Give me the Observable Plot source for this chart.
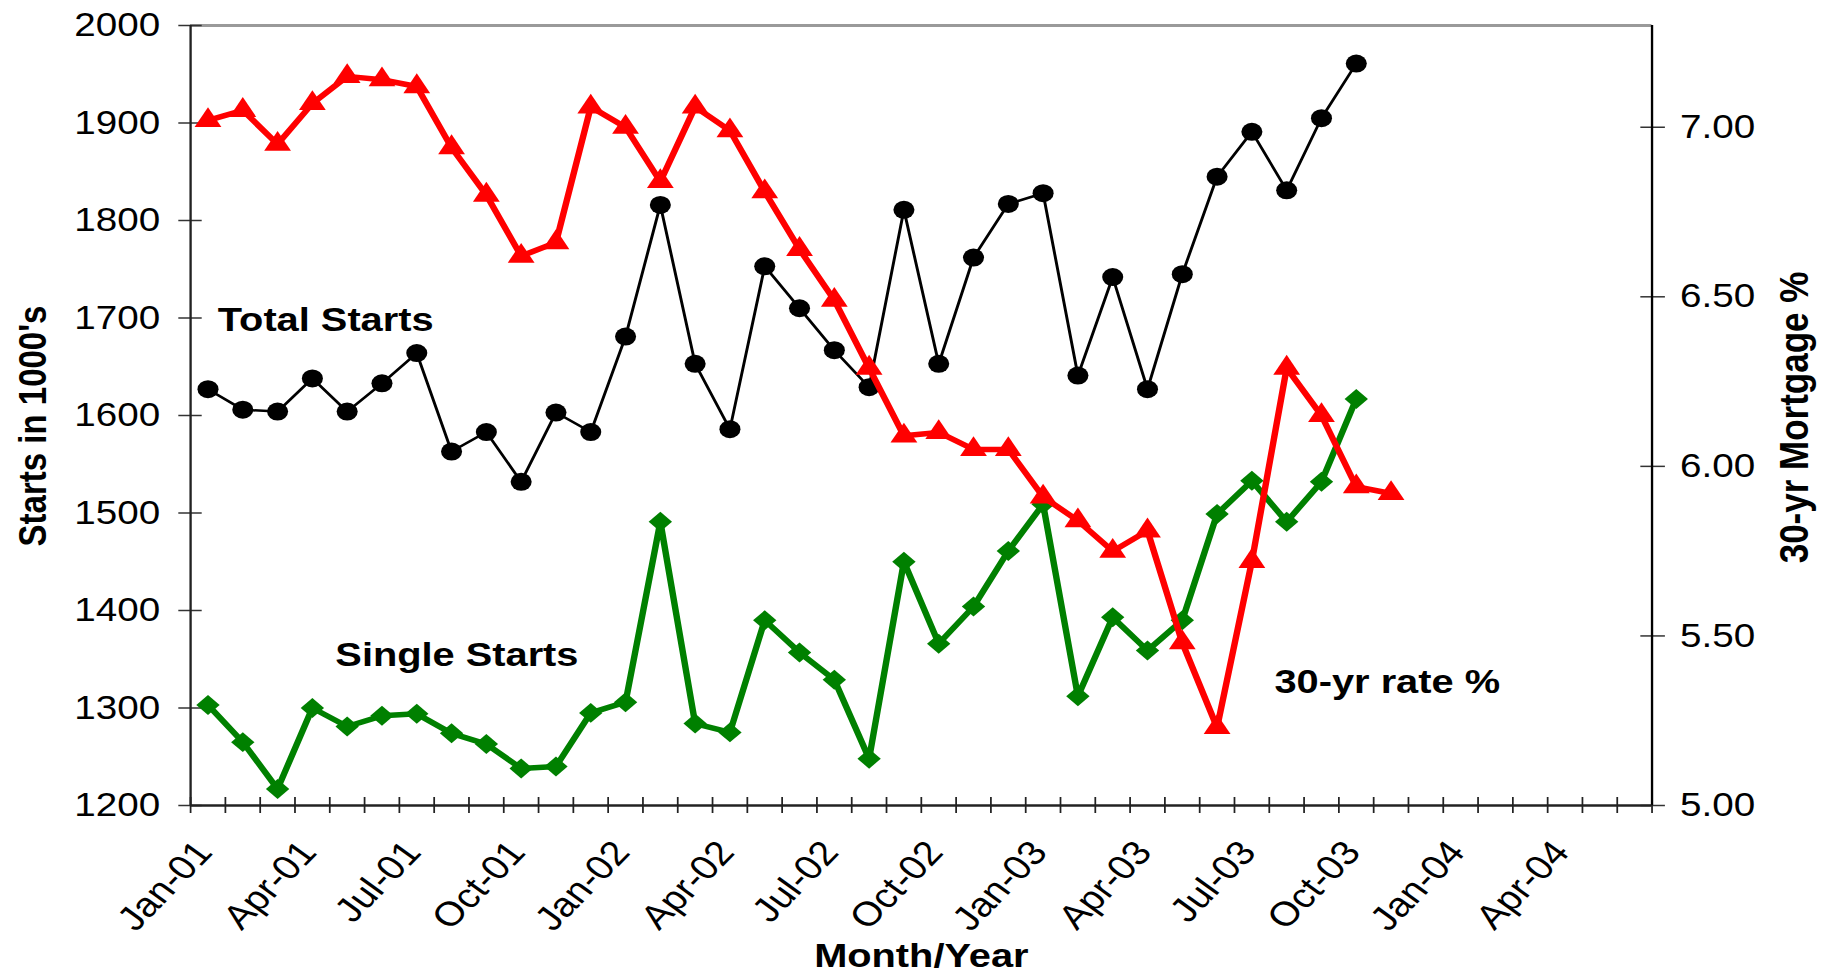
<!DOCTYPE html>
<html>
<head>
<meta charset="utf-8">
<script src="https://cdn.jsdelivr.net/npm/d3@7"></script>
<script src="https://cdn.jsdelivr.net/npm/@observablehq/plot@0.6"></script>
<style>
  html, body { margin: 0; padding: 0; background: #fff; overflow: hidden; }
  #chart { width: 1828px; height: 977px; }
</style>
</head>
<body>
<div id="chart"></div>
<script>
// ---- Data ----
const monthLabels = [
  "Jan-01","Feb-01","Mar-01","Apr-01","May-01","Jun-01","Jul-01","Aug-01","Sep-01","Oct-01","Nov-01","Dec-01",
  "Jan-02","Feb-02","Mar-02","Apr-02","May-02","Jun-02","Jul-02","Aug-02","Sep-02","Oct-02","Nov-02","Dec-02",
  "Jan-03","Feb-03","Mar-03","Apr-03","May-03","Jun-03","Jul-03","Aug-03","Sep-03","Oct-03","Nov-03"
];
const totalStarts = [
  1627,1606,1604,1638,1604,1633,1664,1563,1583,1532,1603,1583,
  1681,1816,1653,1586,1753,1710,1667,1629,1811,1653,1762,1817,
  1828,1641,1742,1627,1745,1845,1891,1831,1905,1961
];
const singleStarts = [
  1303,1265,1217,1300,1281,1292,1294,1274,1263,1238,1240,1295,
  1306,1491,1284,1275,1390,1357,1329,1248,1450,1366,1404,1461,
  1509,1312,1393,1359,1390,1499,1533,1491,1532,1617
];
const mortgageRate = [
  7.02,7.05,6.95,7.07,7.15,7.14,7.12,6.94,6.80,6.62,6.66,7.06,
  7.00,6.84,7.06,6.99,6.81,6.64,6.49,6.29,6.09,6.10,6.05,6.05,
  5.91,5.84,5.75,5.81,5.48,5.23,5.72,6.29,6.15,5.94,5.92
];
const xTickLabels = ["Jan-01","Apr-01","Jul-01","Oct-01","Jan-02","Apr-02","Jul-02","Oct-02",
                     "Jan-03","Apr-03","Jul-03","Oct-03","Jan-04","Apr-04"];
const leftTicks = [1200,1300,1400,1500,1600,1700,1800,1900,2000];
const rightTicks = [5.0,5.5,6.0,6.5,7.0];
const leftDomain = [1200, 2000];
const rightDomain = [5.0, 7.3];
const monthsOnAxis = 42; // Jan-01 .. Jul-04
const annotations = [
  {month: 0.78, value: 1698, label: "Total Starts"},
  {month: 4.16, value: 1354, label: "Single Starts"},
  {month: 31.15, value: 1327, label: "30-yr rate %"}
];

// ---- Layout ----
const S = 1.17;                 // horizontal stretch of the reference
const W = Math.round(1828 / S);
const H = 977;
const font = "'Liberation Sans', Arial, Helvetica, sans-serif";
const blank = () => "";

// secondary axis mapped onto the primary scale
const toLeft = r => leftDomain[0] + (r - rightDomain[0]) * (leftDomain[1] - leftDomain[0]) / (rightDomain[1] - rightDomain[0]);
const fromLeft = v => rightDomain[0] + (v - leftDomain[0]) * (rightDomain[1] - rightDomain[0]) / (leftDomain[1] - leftDomain[0]);

const totalData = totalStarts.map((v, i) => ({m: i + 0.5, v, label: monthLabels[i]}));
const singleData = singleStarts.map((v, i) => ({m: i + 0.5, v, label: monthLabels[i]}));
const rateData = mortgageRate.map((r, i) => ({m: i + 0.5, v: toLeft(r), r, label: monthLabels[i]}));
const xLabelData = xTickLabels.map((t, i) => ({m: i * 3, t}));

const chart = Plot.plot({
  width: W,
  height: H,
  marginLeft: 162.4,
  marginRight: W - 1411.5,
  marginTop: 25,
  marginBottom: 172,
  x: {domain: [0, monthsOnAxis], axis: null},
  y: {domain: leftDomain, axis: null},
  style: {fontFamily: font, color: "black", background: "white", overflow: "visible"},
  marks: [
    // top frame line
    Plot.ruleY([leftDomain[1]], {stroke: "#9a9a9a", strokeWidth: 3}),
    // left axis (ticks crossing the axis line)
    Plot.axisY({anchor: "left", ticks: leftTicks, tickSize: 20, dx: 10, tickFormat: blank, stroke: "#333", strokeWidth: 1.5}),
    Plot.axisY({anchor: "left", ticks: leftTicks, tickSize: 0, tickPadding: 26, fontSize: 33, tickFormat: d => String(d)}),
    // right axis
    Plot.axisY({anchor: "right", ticks: rightTicks.map(toLeft), tickSize: 21, dx: -10.5, tickFormat: blank, stroke: "#333", strokeWidth: 1.5}),
    Plot.axisY({anchor: "right", ticks: rightTicks.map(toLeft), tickSize: 0, tickPadding: 24, fontSize: 33,
                tickFormat: v => fromLeft(v).toFixed(2)}),
    // bottom axis: monthly ticks crossing the line, quarterly rotated labels
    Plot.axisX({anchor: "bottom", ticks: d3.range(0, monthsOnAxis + 1), tickSize: 16, dy: -8, tickFormat: blank, stroke: "#222", strokeWidth: 1.5}),
    Plot.text(xLabelData, {x: "m", frameAnchor: "bottom", text: "t", rotate: -50, textAnchor: "end", lineAnchor: "middle",
                           dx: 11.6, dy: 40.7, fontSize: 34}),
    Plot.ruleX([0], {stroke: "#222", strokeWidth: 2}),
    Plot.ruleX([monthsOnAxis], {stroke: "#000", strokeWidth: 2}),
    Plot.ruleY([leftDomain[0]], {stroke: "#222", strokeWidth: 2.5}),
    // axis titles
    Plot.text(["Starts in 1000's"], {frameAnchor: "left", text: d => d, rotate: -90, textAnchor: "middle", lineAnchor: "middle",
                                     dx: -134.5, dy: 10.5, fontSize: 33, fontWeight: "bold"}),
    Plot.text(["30-yr Mortgage %"], {frameAnchor: "right", text: d => d, rotate: -90, textAnchor: "middle", lineAnchor: "middle",
                                     dx: 122.5, dy: 2, fontSize: 35, fontWeight: "bold"}),
    Plot.text(["Month/Year"], {frameAnchor: "bottom", text: d => d, lineAnchor: "middle", dy: 151, fontSize: 34, fontWeight: "bold"}),
    // series: total starts
    Plot.line(totalData, {x: "m", y: "v", stroke: "black", strokeWidth: 2.5}),
    Plot.dot(totalData, {x: "m", y: "v", r: 9, fill: "black", symbol: "circle"}),
    // series: single starts
    Plot.line(singleData, {x: "m", y: "v", stroke: "#008000", strokeWidth: 5.5}),
    Plot.dot(singleData, {x: "m", y: "v", r: 9, fill: "#008000", symbol: "diamond2"}),
    // series: 30-yr rate (secondary axis)
    Plot.line(rateData, {x: "m", y: "v", stroke: "#ff0000", strokeWidth: 5.5}),
    Plot.dot(rateData, {x: "m", y: "v", r: 8.5, fill: "#ff0000", symbol: "triangle"}),
    // annotations
    Plot.text(annotations, {x: "month", y: "value", text: "label", textAnchor: "start",
                            fontSize: 34, fontWeight: "bold"})
  ]
});

chart.style.maxWidth = "none";
chart.style.transformOrigin = "0 0";
chart.style.transform = `scaleX(${S})`;
document.getElementById("chart").appendChild(chart);
</script>
</body>
</html>
